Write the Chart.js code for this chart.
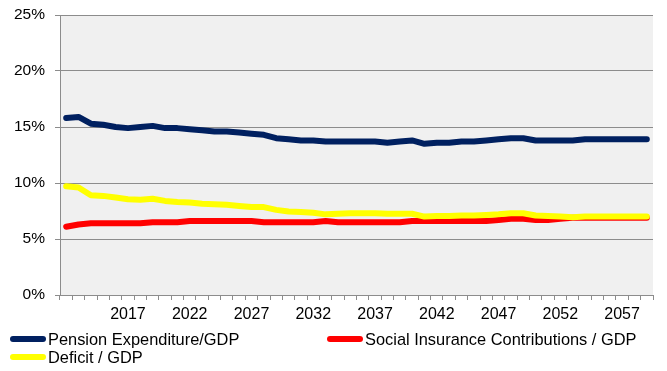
<!DOCTYPE html>
<html>
<head>
<meta charset="utf-8">
<script src="https://cdn.jsdelivr.net/npm/chart.js@4.4.1/dist/chart.umd.min.js"></script>
<style>
  html, body { margin: 0; padding: 0; background: #fff; }
  #wrap { position: relative; width: 667px; height: 371px; }
  #legend { position: absolute; left: 0; top: 0; font-family: "Liberation Sans", Arial, sans-serif; font-size: 16.4px; color: #000; }
  .item { position: absolute; display: flex; align-items: center; white-space: nowrap; height: 18px; line-height: 18px; }
  .swatch { width: 36px; height: 6px; border-radius: 3px; margin-right: 2px; }
</style>
</head>
<body>
<div id="wrap">
  <canvas id="chart" width="667" height="371"></canvas>
  <div id="legend"></div>
</div>
<script>
var years = [2012, 2013, 2014, 2015, 2016, 2017, 2018, 2019, 2020, 2021,
             2022, 2023, 2024, 2025, 2026, 2027, 2028, 2029, 2030, 2031,
             2032, 2033, 2034, 2035, 2036, 2037, 2038, 2039, 2040, 2041,
             2042, 2043, 2044, 2045, 2046, 2047, 2048, 2049, 2050, 2051,
             2052, 2053, 2054, 2055, 2056, 2057, 2058, 2059];
var tickYears = [2017, 2022, 2027, 2032, 2037, 2042, 2047, 2052, 2057];

// % of GDP
var pension = [15.8, 15.9, 15.3, 15.2, 15.0, 14.9, 15.0, 15.1, 14.9, 14.9,
               14.8, 14.7, 14.6, 14.6, 14.5, 14.4, 14.3, 14.0, 13.9, 13.8,
               13.8, 13.7, 13.7, 13.7, 13.7, 13.7, 13.6, 13.7, 13.8, 13.5,
               13.6, 13.6, 13.7, 13.7, 13.8, 13.9, 14.0, 14.0, 13.8, 13.8,
               13.8, 13.8, 13.9, 13.9, 13.9, 13.9, 13.9, 13.9];
var contributions = [6.1, 6.3, 6.4, 6.4, 6.4, 6.4, 6.4, 6.5, 6.5, 6.5,
                     6.6, 6.6, 6.6, 6.6, 6.6, 6.6, 6.5, 6.5, 6.5, 6.5,
                     6.5, 6.6, 6.5, 6.5, 6.5, 6.5, 6.5, 6.5, 6.6, 6.6,
                     6.6, 6.6, 6.6, 6.6, 6.6, 6.7, 6.8, 6.8, 6.7, 6.7,
                     6.8, 6.9, 6.9, 6.9, 6.9, 6.9, 6.9, 6.9];
var deficit = [9.7, 9.6, 8.9, 8.85, 8.7, 8.55, 8.5, 8.6, 8.4, 8.3,
               8.25, 8.15, 8.1, 8.05, 7.95, 7.85, 7.85, 7.6, 7.45, 7.4,
               7.35, 7.2, 7.25, 7.3, 7.3, 7.3, 7.25, 7.25, 7.25, 7.0,
               7.05, 7.05, 7.1, 7.1, 7.15, 7.2, 7.3, 7.3, 7.1, 7.05,
               7.0, 6.95, 7.0, 7.0, 7.0, 7.0, 7.0, 7.0];

var seriesNames = ['Pension Expenditure/GDP', 'Social Insurance Contributions / GDP', 'Deficit / GDP'];
var seriesColors = ['#002060', '#ff0000', '#ffff00'];

var font = '"Liberation Sans", Arial, sans-serif';

// light grey plot area
var plotBg = {
  id: 'plotBg',
  beforeDraw: function (chart) {
    var a = chart.chartArea;
    var ctx = chart.ctx;
    ctx.save();
    ctx.fillStyle = '#f0f0f0';
    ctx.fillRect(a.left, a.top, a.right - a.left, a.bottom - a.top);
    ctx.restore();
  }
};

function line(i, data, order) {
  return {
    label: seriesNames[i],
    data: data,
    borderColor: seriesColors[i],
    backgroundColor: seriesColors[i],
    borderWidth: 6,
    pointRadius: 0,
    tension: 0,
    borderCapStyle: 'round',
    borderJoinStyle: 'round',
    fill: false,
    order: order
  };
}

new Chart(document.getElementById('chart'), {
  type: 'line',
  data: {
    labels: years,
    datasets: [line(0, pension, 2), line(1, contributions, 1), line(2, deficit, 0)]
  },
  options: {
    responsive: false,
    animation: false,
    layout: { padding: { left: 0, right: 14, top: 15, bottom: 46 } },
    plugins: { legend: { display: false }, tooltip: { enabled: false } },
    scales: {
      x: {
        offset: true,
        grid: { offset: true, drawOnChartArea: false, color: '#8c8c8c', tickLength: 5 },
        border: { color: '#8c8c8c' },
        ticks: {
          autoSkip: false, maxRotation: 0, color: '#000', padding: 5,
          font: { family: font, size: 16 },
          callback: function (v, i) {
            return tickYears.indexOf(years[i]) >= 0 ? String(years[i]) : '';
          }
        },
        afterFit: function (s) { s.height = 30; s.paddingLeft = 0; s.paddingRight = 0; }
      },
      y: {
        min: 0, max: 25,
        grid: { color: '#8c8c8c', tickLength: 5 },
        border: { color: '#8c8c8c' },
        ticks: {
          stepSize: 5, color: '#000', padding: 10,
          font: { family: font, size: 15.5 },
          callback: function (v) { return v + '%'; }
        },
        afterFit: function (s) { s.width = 60; s.paddingTop = 0; s.paddingBottom = 0; }
      }
    }
  },
  plugins: [plotBg]
});

// legend laid out like the original (two columns)
var legendPos = [[10, 330], [327, 330], [10, 348]];
var legendEl = document.getElementById('legend');
seriesNames.forEach(function (name, i) {
  var item = document.createElement('div');
  item.className = 'item';
  item.style.left = legendPos[i][0] + 'px';
  item.style.top = legendPos[i][1] + 'px';
  var sw = document.createElement('span');
  sw.className = 'swatch';
  sw.style.background = seriesColors[i];
  item.appendChild(sw);
  item.appendChild(document.createTextNode(name));
  legendEl.appendChild(item);
});
</script>
</body>
</html>
